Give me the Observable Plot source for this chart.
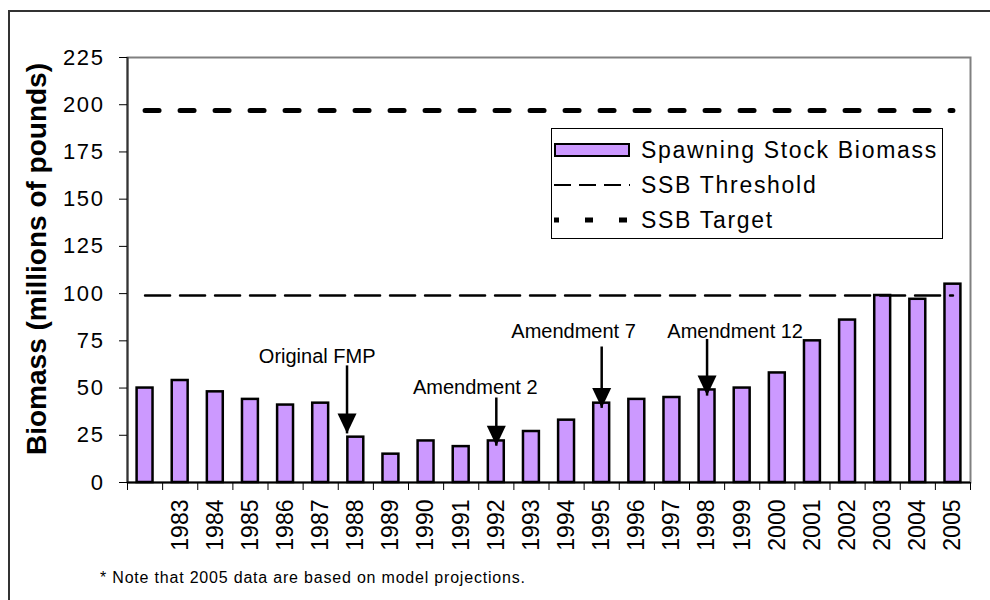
<!DOCTYPE html>
<html>
<head>
<meta charset="utf-8">
<script src="https://cdn.jsdelivr.net/npm/d3@7"></script>
<script src="https://cdn.jsdelivr.net/npm/@observablehq/plot@0.6"></script>
<style>
  body { margin: 0; background: #fff; font-family: "Liberation Sans", Arial, sans-serif; }
  #wrap { position: relative; width: 990px; height: 600px; overflow: hidden; background: #fff; }
  #border { position: absolute; left: 8px; top: 10px; width: 1000px; height: 620px; border: 2px solid #333; box-sizing: border-box; }
  #chart { position: absolute; left: 0; top: 0; }
  #legend { position: absolute; left: 551px; top: 128px; width: 392px; height: 111px; border: 1.5px solid #000; background: #fff; box-sizing: border-box; }
  .row { position: absolute; left: 2px; height: 30px; display: flex; align-items: center; white-space: nowrap; }
  .row span { font-size: 23px; letter-spacing: 1.7px; margin-left: 11px; color: #000; }
  #note { position: absolute; left: 100px; top: 569px; font-size: 16px; letter-spacing: 0.8px; line-height: 18px; color: #000; white-space: nowrap; }
  #chart g[aria-label="y-axis tick label"] text { letter-spacing: 1.6px; }
  #chart g[aria-label="annotation"] text { letter-spacing: 1.2px; }
</style>
</head>
<body>
<div id="wrap">
  <div id="border"></div>
  <div id="chart"></div>
  <div id="legend"></div>
  <div id="note"></div>
</div>
<script>
// ---- data ----
const years = [1982, 1983, 1984, 1985, 1986, 1987, 1988, 1989, 1990, 1991, 1992, 1993,
               1994, 1995, 1996, 1997, 1998, 1999, 2000, 2001, 2002, 2003, 2004, 2005];
const yearLabels = ["", "1983", "1984", "1985", "1986", "1987", "1988", "1989", "1990", "1991", "1992", "1993",
                    "1994", "1995", "1996", "1997", "1998", "1999", "2000", "2001", "2002", "2003", "2004", "2005"];
const biomass = [50, 54, 48, 44, 41, 42, 24, 15, 22, 19, 22, 27,
                 33, 42, 44, 45, 49, 50, 58, 75, 86, 99, 97, 105];
const ssbThreshold = 99;
const ssbTarget = 197;
const yTicks = [0, 25, 50, 75, 100, 125, 150, 175, 200, 225];
const yTitle = "Biomass (millions of pounds)";
const seriesNames = ["Spawning Stock Biomass", "SSB Threshold", "SSB Target"];
const noteText = "* Note that 2005 data are based on model projections.";

// annotations (year position of arrow, label position, arrow top/tip values)
const annotationLabels = ["Original FMP", "Amendment 2", "Amendment 7", "Amendment 12"];
const annotationArrowYear = [1987.75, 1992, 1995, 1998];
const annotationTextYear = [1986.9, 1991.4, 1994.2, 1998.8];
const annotationTextValue = [63.5, 47, 76.5, 76.5];
const annotationArrowTop = [62, 45, 72, 76];
const annotationArrowTip = [26, 19.5, 39.5, 46];

// ---- tables ----
const ssbData = years.map((year, i) => ({year, value: biomass[i]}));
const thresholdData = years.map(year => ({year, value: ssbThreshold}));
const targetData = years.map(year => ({year, value: ssbTarget}));
const annotations = annotationLabels.map((label, i) => ({
  label, ax: annotationArrowYear[i], tx: annotationTextYear[i], ty: annotationTextValue[i],
  top: annotationArrowTop[i], tip: annotationArrowTip[i]
}));
const labelByYear = new Map(years.map((y, i) => [y, yearLabels[i]]));
const xMin = years[0] - 0.5, xMax = years[years.length - 1] + 0.5;
const boundaries = years.map(y => y - 0.5).concat([xMax]);

const downTriangle = {
  draw(context) {
    context.moveTo(0, 0);
    context.lineTo(-9.5, -20);
    context.lineTo(9.5, -20);
    context.closePath();
  }
};

const chart = Plot.plot({
  width: 990,
  height: 560,
  marginTop: 57,
  marginBottom: 78,
  marginLeft: 127,
  marginRight: 20,
  style: {fontFamily: "'Liberation Sans', Arial, sans-serif", fontSize: "22px", color: "black", background: "transparent", overflow: "visible"},
  x: {type: "linear", domain: [xMin, xMax], label: null},
  y: {domain: [0, 225], label: null},
  marks: [
    Plot.frame({stroke: "#808080", strokeWidth: 2}),
    Plot.rectY(ssbData, {x1: d => d.year - 0.5, x2: d => d.year + 0.5, y: "value",
      insetLeft: 9.6, insetRight: 9.6, fill: "#cc99ff", stroke: "black", strokeWidth: 2.5}),
    Plot.lineY(thresholdData, {x: "year", y: "value", stroke: "black", strokeWidth: 2.5, strokeDasharray: "25,10"}),
    Plot.lineY(targetData, {x: "year", y: "value", stroke: "black", strokeWidth: 5, strokeDasharray: "14,21"}),
    Plot.link(annotations, {x1: "ax", x2: "ax", y1: "top", y2: "tip", stroke: "black", strokeWidth: 2.5}),
    Plot.dot(annotations, {x: "ax", y: "tip", symbol: downTriangle, fill: "black", stroke: "none"}),
    Plot.text(annotations, {x: "tx", y: "ty", text: "label", textAnchor: "middle", lineAnchor: "bottom",
      fontSize: 20, fill: "black", ariaLabel: "annotation"}),
    Plot.ruleX([xMin], {stroke: "#333", strokeWidth: 2}),
    Plot.ruleY([0], {stroke: "black", strokeWidth: 2}),
    Plot.axisY(yTicks, {tickSize: 8, tickPadding: 15, label: null, stroke: "black"}),
    Plot.axisX(boundaries, {tickSize: 8, tickFormat: () => "", label: null, stroke: "black"}),
    Plot.axisX(years, {tickSize: 0, tickPadding: 17, tickRotate: -90, tickFormat: d => labelByYear.get(d), label: null, fontSize: 23}),
    Plot.text([yTitle], {text: d => d, frameAnchor: "left", textAnchor: "middle", rotate: -90, dx: -90, dy: -11,
      fontWeight: "bold", fontSize: 28, fill: "black"})
  ]
});
document.getElementById("chart").appendChild(chart);

// legend
const legend = document.getElementById("legend");
const swatches = [
  `<svg width="76" height="20"><rect x="1" y="4" width="74" height="12" fill="#cc99ff" stroke="black" stroke-width="2"/></svg>`,
  `<svg width="76" height="20"><line x1="0" y1="10" x2="76" y2="10" stroke="black" stroke-width="2" stroke-dasharray="17,8"/></svg>`,
  `<svg width="76" height="20"><line x1="0" y1="10" x2="76" y2="10" stroke="black" stroke-width="5" stroke-dasharray="8,26" stroke-dashoffset="3"/></svg>`
];
seriesNames.forEach((name, i) => {
  const row = document.createElement("div");
  row.className = "row";
  row.style.top = (6 + 35 * i) + "px";
  row.innerHTML = swatches[i] + `<span>${name}</span>`;
  legend.appendChild(row);
});
document.getElementById("note").textContent = noteText;
</script>
</body>
</html>
